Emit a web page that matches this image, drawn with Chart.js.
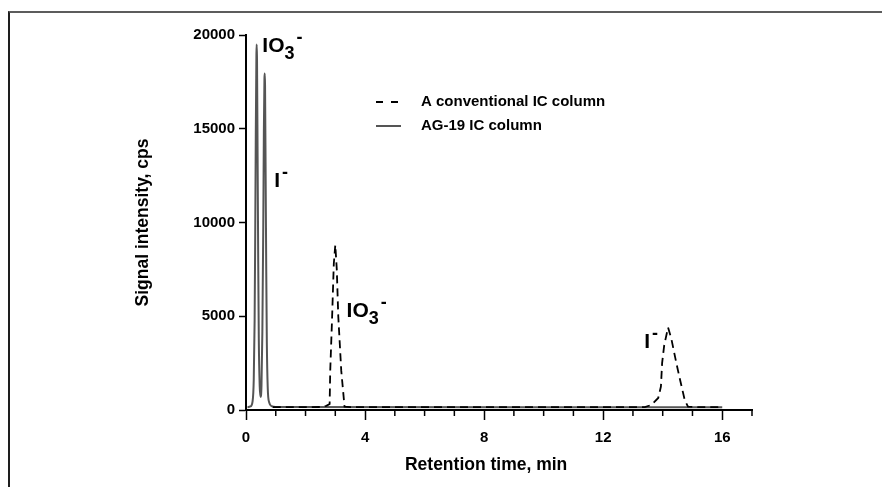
<!DOCTYPE html>
<html><head><meta charset="utf-8">
<script src="https://cdn.jsdelivr.net/npm/chart.js@4.4.0/dist/chart.umd.min.js"></script>
<style>
html,body{margin:0;padding:0;background:#fff;}
#wrap{position:relative;width:882px;height:487px;overflow:hidden;background:#fff;}
#frame{position:absolute;left:8px;top:11px;width:880px;height:480px;border-top:2px solid #5c5c5c;border-left:2px solid #1e1e1e;pointer-events:none;}
canvas{position:absolute;left:0;top:0;}
</style></head><body>
<div id="wrap"><canvas id="c" width="882" height="487"></canvas><div id="frame"></div></div>
<script>
// ---- data ----
const ag19Time   = [0.05, 0.15, 0.22, 0.26, 0.29, 0.31, 0.33, 0.35, 0.36, 0.37, 0.39, 0.41, 0.43, 0.46, 0.49, 0.52, 0.55, 0.58, 0.60, 0.62, 0.63, 0.64, 0.66, 0.68, 0.70, 0.73, 0.78, 0.86, 1.0, 16.0];
const ag19Signal = [150, 190, 450, 1600, 4800, 9500, 15000, 19000, 19500, 18700, 13500, 8000, 3800, 1300, 700, 1300, 4200, 9800, 14800, 17700, 17950, 17300, 12500, 7500, 3600, 1200, 400, 210, 160, 150];
const convTime   = [0.9, 2.5, 2.7, 2.81, 2.83, 2.89, 2.95, 3.0, 3.05, 3.1, 3.2, 3.31, 3.5, 13.4, 13.62, 13.85, 13.94, 13.98, 14.05, 14.18, 14.29, 14.46, 14.57, 14.74, 14.85, 15.2, 16.0];
const convSignal = [150, 160, 220, 320, 2100, 4800, 7800, 8800, 7500, 5000, 2100, 180, 150, 150, 270, 640, 1250, 2500, 3450, 4400, 3800, 2490, 1700, 530, 180, 150, 150];
const seriesNames = ['A conventional IC column', 'AG-19 IC column'];
const xTickLabels = [0, 4, 8, 12, 16];
const yTickValues = [0, 5000, 10000, 15000, 20000];
const xTitle = 'Retention time, min';
const yTitle = 'Signal intensity, cps';
// peak annotations: main text, subscript, anchor (time, signal)
const peakText = ['IO', 'I', 'IO', 'I'];
const peakSub  = ['3', '', '3', ''];
const peakAtTime   = [0.55, 0.95, 3.38, 13.38];
const peakAtSignal = [19100, 11900, 4980, 3290];

const FONT = '"Liberation Sans", Arial, Helvetica, sans-serif';
const toXY = (xs, ys) => xs.map((t, i) => ({x: t, y: ys[i]}));

const decor = {
  id: 'decor',
  afterDraw(chart) {
    const {ctx, chartArea: a, scales: {x, y}} = chart;
    ctx.save();
    // minor x ticks
    ctx.strokeStyle = '#000'; ctx.lineWidth = 1.5;
    for (const v of x.ticks.map(t => t.value)) {
      if (xTickLabels.includes(v)) continue;
      const px = x.getPixelForValue(v);
      ctx.beginPath(); ctx.moveTo(px, a.bottom); ctx.lineTo(px, a.bottom + 6); ctx.stroke();
    }
    // axis titles
    ctx.fillStyle = '#000';
    ctx.font = 'bold 17.5px ' + FONT;
    ctx.textAlign = 'center'; ctx.textBaseline = 'middle';
    ctx.fillText(xTitle, x.getPixelForValue(8) + 2, a.bottom + 55);
    ctx.save();
    ctx.translate(a.left - 103, (a.top + a.bottom) / 2);
    ctx.rotate(-Math.PI / 2);
    ctx.fillText(yTitle, 0, 0);
    ctx.restore();
    // legend
    const lx = a.left + 130, ly = a.top + 67, gap = 24;
    chart.data.datasets.forEach((ds, i) => {
      const yy = ly + i * gap;
      ctx.save();
      ctx.strokeStyle = ds.borderColor;
      ctx.lineWidth = ds.borderWidth;
      ctx.setLineDash(i === 0 ? [7, 8] : []);
      ctx.beginPath(); ctx.moveTo(lx, yy); ctx.lineTo(lx + 25, yy); ctx.stroke();
      ctx.restore();
      ctx.font = 'bold 15px ' + FONT;
      ctx.textAlign = 'left'; ctx.textBaseline = 'middle'; ctx.fillStyle = '#000';
      ctx.fillText(ds.label, lx + 45, yy);
    });
    // peak labels
    ctx.textAlign = 'left'; ctx.textBaseline = 'alphabetic'; ctx.fillStyle = '#000';
    peakText.forEach((txt, i) => {
      let px = x.getPixelForValue(peakAtTime[i]);
      const py = y.getPixelForValue(peakAtSignal[i]);
      ctx.font = 'bold 21px ' + FONT;
      ctx.fillText(txt, px, py);
      px += ctx.measureText(txt).width;
      if (peakSub[i]) {
        ctx.font = 'bold 18px ' + FONT;
        ctx.fillText(peakSub[i], px, py + 7);
        px += ctx.measureText(peakSub[i]).width;
      }
      ctx.font = 'bold 18px ' + FONT;
      ctx.fillText('-', px + 2, py - 9);
    });
    ctx.restore();
  }
};

new Chart(document.getElementById('c'), {
  type: 'line',
  data: {
    datasets: [
      {label: seriesNames[0], data: toXY(convTime, convSignal), borderColor: '#000', borderWidth: 1.8,
       borderDash: [8, 5], pointRadius: 0, tension: 0, fill: false},
      {label: seriesNames[1], data: toXY(ag19Time, ag19Signal), borderColor: '#555', borderWidth: 2,
       pointRadius: 0, cubicInterpolationMode: 'monotone', fill: false}
    ]
  },
  options: {
    responsive: false, animation: false, devicePixelRatio: 1,
    layout: {padding: {top: 35, right: 130, bottom: 0, left: 0}},
    plugins: {legend: {display: false}, tooltip: {enabled: false}},
    scales: {
      x: {
        type: 'linear', min: 0, max: 17,
        afterFit: s => { s.height = 77; },
        border: {display: true, color: '#000', width: 2},
        grid: {drawOnChartArea: false, drawTicks: true, tickLength: 10, tickWidth: 1.5,
               tickColor: c => (c.tick && xTickLabels.includes(c.tick.value)) ? '#000' : 'rgba(0,0,0,0)'},
        ticks: {stepSize: 1, autoSkip: false, maxRotation: 0, padding: 9, color: '#000',
                font: {family: FONT, size: 15, weight: 'bold'},
                callback: v => xTickLabels.includes(v) ? String(v) : ''}
      },
      y: {
        type: 'linear', min: 0, max: 20000,
        afterFit: s => { s.width = 246; },
        afterBuildTicks: s => { s.ticks = yTickValues.map(v => ({value: v})); },
        border: {display: true, color: '#000', width: 2},
        grid: {drawOnChartArea: false, drawTicks: true, tickLength: 7, tickWidth: 1.5, tickColor: '#000'},
        ticks: {padding: 4, color: '#000', font: {family: FONT, size: 15, weight: 'bold'},
                callback: v => String(v)}
      }
    }
  },
  plugins: [decor]
});
</script>
</body></html>
